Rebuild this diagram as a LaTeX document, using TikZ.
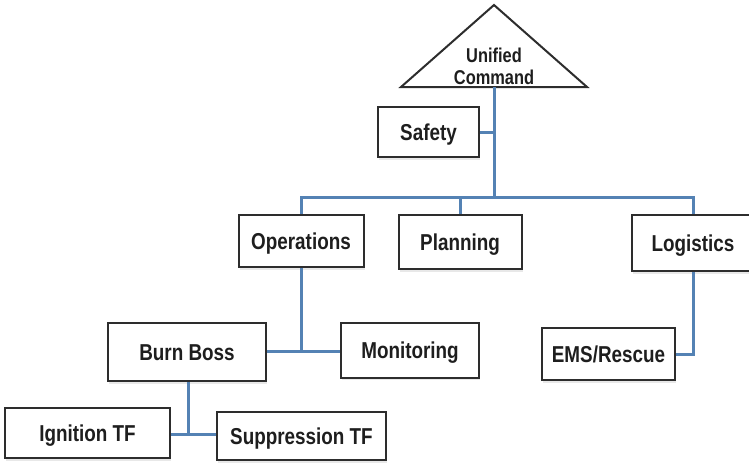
\documentclass[tikz,border=0pt]{standalone}
\usepackage{fontspec}
\setmainfont{Liberation Sans}[FakeStretch=0.82]
\usetikzlibrary{shadows}
\definecolor{linkblue}{RGB}{84,130,180}
\definecolor{boxline}{RGB}{45,45,45}
\definecolor{txt}{RGB}{30,30,30}
\tikzset{
  orgbox/.style={draw=boxline, line width=2pt, fill=white, rectangle, inner sep=0pt,
    font=\fontsize{23}{26}\selectfont\bfseries, text=txt, text height=16.5pt, text depth=0pt,
    drop shadow={opacity=0.18, shadow xshift=1pt, shadow yshift=-2.5pt}},
  link/.style={draw=linkblue, line width=3pt},
}
\begin{document}
\begin{tikzpicture}[x=1pt,y=-1pt]
\useasboundingbox (0,0) rectangle (749,464);
% triangle
\coordinate (apex) at (494,5);
\coordinate (bl) at (401,87);
\coordinate (br) at (587,87);
\coordinate (ucb) at (494,87);
\draw[boxline, line width=2pt, fill=white, line join=miter] (apex) -- (br) -- (bl) -- cycle;
\node[font=\fontsize{20}{22}\selectfont\bfseries, text=txt, align=center] (uc) at (494,66) {Unified\\Command};
% boxes
\node[orgbox, minimum width=101pt, minimum height=50pt] (saf) at (428.5,132) {Safety};
\node[orgbox, minimum width=125pt, minimum height=52pt] (ops) at (301,241) {Operations};
\node[orgbox, minimum width=123pt, minimum height=54pt] (pla) at (460,242) {Planning};
\node[orgbox, minimum width=122pt, minimum height=56pt] (log) at (693,243) {Logistics};
\node[orgbox, minimum width=158pt, minimum height=58pt] (bb) at (187,352) {Burn Boss};
\node[orgbox, minimum width=138pt, minimum height=55pt] (mon) at (410,350) {Monitoring};
\node[orgbox, minimum width=133pt, minimum height=52pt] (ems) at (608.5,354) {EMS/Rescue};
\node[orgbox, minimum width=165pt, minimum height=50pt] (ign) at (87.5,433) {Ignition TF};
\node[orgbox, minimum width=169pt, minimum height=48pt] (sup) at (301.5,436) {Suppression TF};
% junctions
\coordinate (busC) at (494,197);
\coordinate (busL) at (301,197);
\coordinate (busR) at (693,197);
\coordinate (jbb) at (301,351);
\coordinate (jign) at (188,434);
% connectors
\draw[link] (ucb) -- (busC);
\draw[link] (saf.east |- 0,132) -- (494,132);
\draw[link, line cap=rect] (busL) -- (busR);
\draw[link] (busL) -- (ops.north);
\draw[link] (pla.north |- busC) -- (pla.north);
\draw[link] (busR) -- (log.north);
\draw[link] (ops.south) -- (jbb);
\draw[link] (bb.east |- jbb) -- (mon.west |- jbb);
\draw[link] (log.south) |- (ems.east);
\draw[link] (bb.south -| jign) -- (jign);
\draw[link] (ign.east |- jign) -- (sup.west |- jign);
\end{tikzpicture}
\end{document}
